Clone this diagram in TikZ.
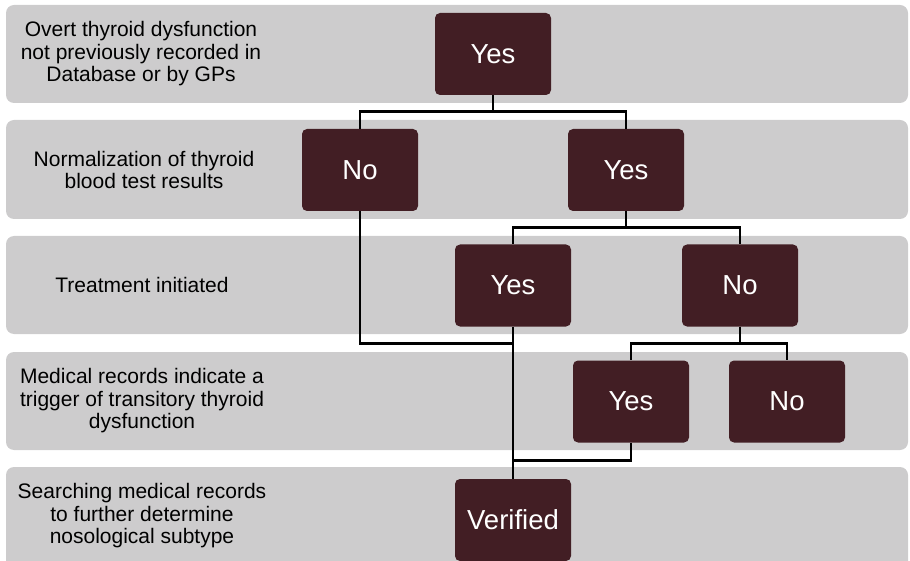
\documentclass[tikz,border=0pt]{standalone}
\usepackage{fontspec}
\setmainfont{Liberation Sans}
\definecolor{band}{HTML}{CDCCCD}
\definecolor{maroon}{HTML}{421E24}
\begin{document}
\begin{tikzpicture}[x=1pt,y=-1pt,
  bandbox/.style={fill=band, rounded corners=8pt},
  lbl/.style={align=center, font=\fontsize{21}{22.5}\selectfont, text=black},
  dec/.style={fill=maroon, rounded corners=5pt, minimum width=116pt, minimum height=82pt,
    text=white, font=\fontsize{27.5}{30}\selectfont, inner sep=0pt},
  conn/.style={draw=black, line width=2.8pt}]
\useasboundingbox (0,0) rectangle (910,561);
\clip (0,0) rectangle (910,561);
% bands
\fill[bandbox] (6,5) rectangle (908,103);
\fill[bandbox] (6,120) rectangle (908,219);
\fill[bandbox] (6,236) rectangle (908,334);
\fill[bandbox] (6,352) rectangle (908,450);
\fill[bandbox] (6,467) rectangle (908,575);
% labels
\node[lbl] (l1) at (141,54) {Overt thyroid dysfunction\\not previously recorded in\\Database or by GPs};
\node[lbl] (l2) at (144,170) {Normalization of thyroid\\blood test results};
\node[lbl] (l3) at (142,285) {Treatment initiated};
\node[lbl] (l4) at (142,401) {Medical records indicate a\\trigger of transitory thyroid\\dysfunction};
\node[lbl] (l5) at (142,516) {Searching medical records\\to further determine\\nosological subtype};
% decision boxes
\node[dec] (y1) at (493,54) {Yes};
\node[dec] (n2) at (360,170) {No};
\node[dec] (y2) at (626,170) {Yes};
\node[dec] (y3) at (513,285.5) {Yes};
\node[dec] (n3) at (740,285.5) {No};
\node[dec] (y4) at (631,401.5) {Yes};
\node[dec] (n4) at (787,401.5) {No};
\node[dec] (v) at (513,520) {Verified};
% connectors
\draw[conn] (y1.south) -- ++(0,16) -| (n2.north);
\draw[conn] (y1.south) -- ++(0,16) -| (y2.north);
\draw[conn] (y2.south) -- ++(0,16) -| (y3.north);
\draw[conn] (y2.south) -- ++(0,16) -| (n3.north);
\draw[conn] (n3.south) -- ++(0,17) -| (y4.north);
\draw[conn] (n3.south) -- ++(0,17) -| (n4.north);
\draw[conn] (y3.south) -- (v.north);
\draw[conn] (n2.south) -- ++(0,132.5) -| (v.north);
\draw[conn] (y4.south) -- ++(0,17.5) -| (v.north);
\end{tikzpicture}
\end{document}
